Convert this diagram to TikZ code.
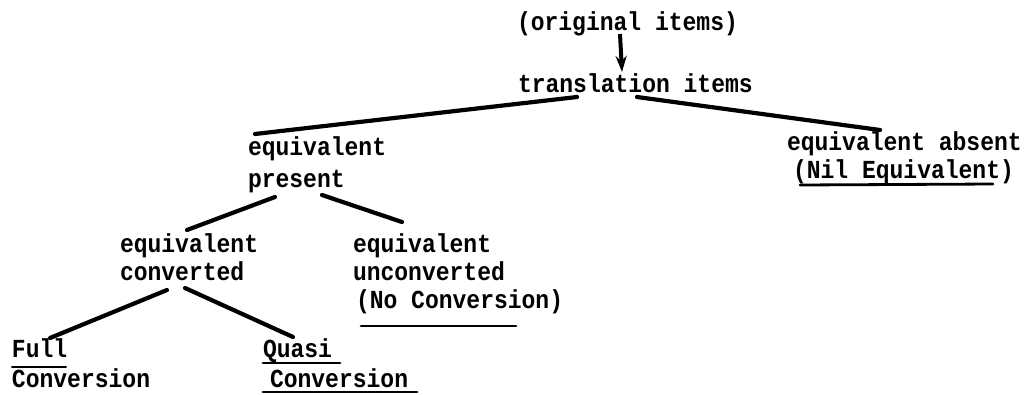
\documentclass[tikz,border=0pt]{standalone}
\usepackage{fontspec}
\setmainfont[FakeStretch=0.885]{Liberation Mono}
\usetikzlibrary{calc,arrows.meta}
\begin{document}
\begin{tikzpicture}[x=1pt,y=-1pt,
  lbl/.style={anchor=base west,inner sep=0pt,outer sep=0pt,font=\fontsize{26}{30}\selectfont\bfseries},
  branch/.style={line width=4.2pt,line cap=round},
  uline/.style={line width=2.8pt,line cap=round}]
\fill[white] (0,0) rectangle (1024,394);
\useasboundingbox (0,0) rectangle (1024,394);
% texts
\node[lbl] (orig)   at (517,30)  {(original items)};
\node[lbl] (trans)  at (518,92)  {translation items};
\node[lbl] (epresA) at (248,155) {equivalent};
\node[lbl] (epresB) at (248,187) {present};
\node[lbl] (eabsA)  at (787,150) {equivalent absent};
\node[lbl] (eabsB)  at (793,178) {(Nil Equivalent)};
\node[lbl] (econA)  at (120,252) {equivalent};
\node[lbl] (econB)  at (120,280) {converted};
\node[lbl] (euncA)  at (353,252) {equivalent};
\node[lbl] (euncB)  at (353,280) {unconverted};
\node[lbl] (euncC)  at (356,308) {(No Conversion)};
\node[lbl] (fullA)  at (12,357)  {Full};
\node[lbl] (fullB)  at (12,387)  {Conversion};
\node[lbl] (quasiA) at (263,357) {Quasi};
\node[lbl] (quasiB) at (270,387) {Conversion};
% arrow
\draw[line width=4pt,-{Stealth[length=16pt,width=11pt]}]
  ($(orig.base west)+(103,4)$) -- ($(trans.base west)+(104,-20)$);
% branches
\draw[branch] ($(trans.base west)+(59,5)$) -- ($(epresA.base west)+(7,-21)$);
\draw[branch] ($(trans.base west)+(119,5)$) -- ($(eabsA.base west)+(93,-20)$);
\draw[branch] ($(epresB.base west)+(27,10)$) -- ($(econA.base west)+(67,-22)$);
\draw[branch] ($(epresB.base west)+(74,8)$) -- ($(euncA.base west)+(49,-30)$);
\draw[branch] ($(econB.base west)+(47,10)$) -- ($(fullA.base west)+(38,-19)$);
\draw[branch] ($(econB.base west)+(65,8)$) -- ($(quasiA.base west)+(30,-20)$);
% underlines
\draw[uline] ($(eabsB.base west)+(7,7)$) -- ($(eabsB.base west)+(200,6)$);
\draw[uline] ($(euncC.base west)+(5,18)$) -- ($(euncC.base west)+(160,18)$);
\draw[uline,line width=2pt] ($(fullA.base west)+(0,10)$) -- ($(fullA.base west)+(54,10)$);
\draw[uline] ($(quasiA.base west)+(0,6)$) -- ($(quasiA.base west)+(77,6)$);
\draw[uline] ($(quasiB.base west)+(-7,5)$) -- ($(quasiB.base west)+(147,5)$);
\end{tikzpicture}
\end{document}
